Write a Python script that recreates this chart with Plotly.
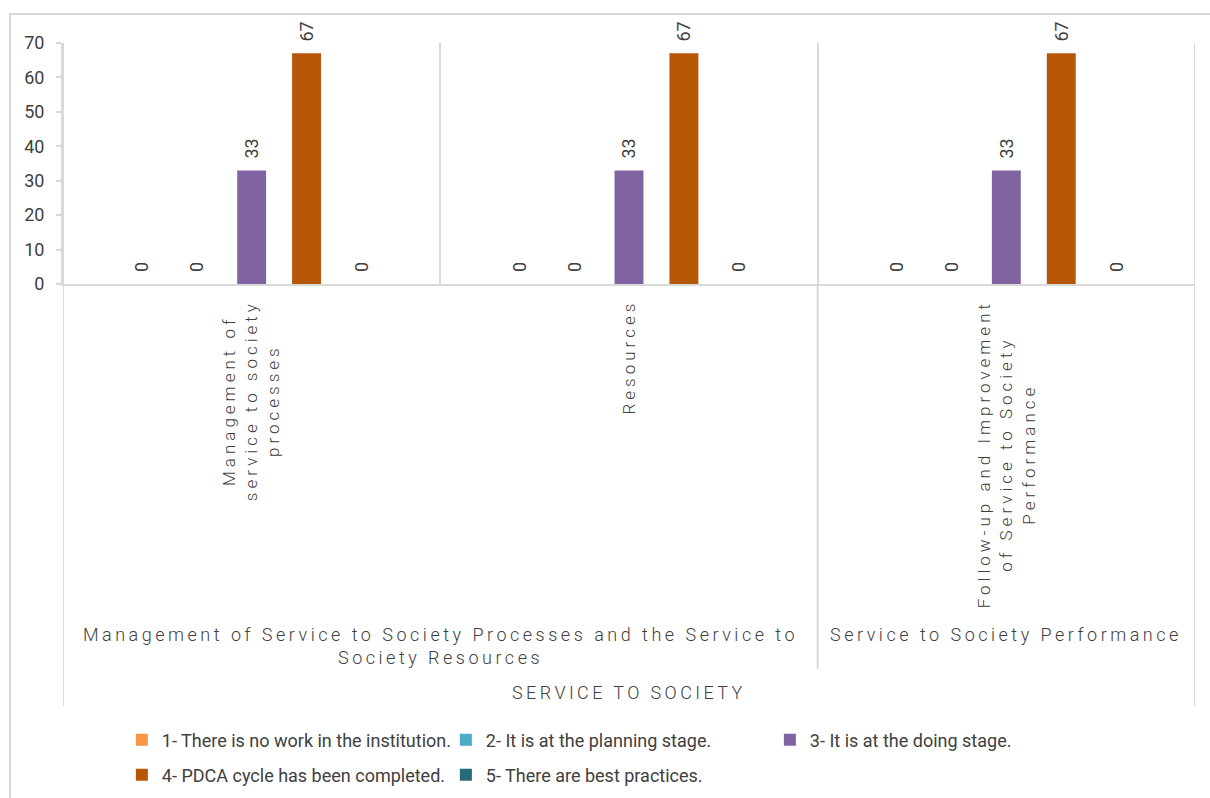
import plotly.graph_objects as go

# Sub-criteria (inner category level) and their wrapped display text
categories = [
    "Management of service to society processes",
    "Resources",
    "Follow-up and Improvement of Service to Society Performance",
]
category_lines = [
    ["Management of", "service to society", "processes"],
    ["Resources"],
    ["Follow-up and Improvement", "of Service to Society", "Performance"],
]

# Criteria groups (middle level): label lines and the category indices they span
group_lines = [
    ["Management of Service to Society Processes and the Service to", "Society Resources"],
    ["Service to Society Performance"],
]
group_spans = [(0, 1), (2, 2)]

# Top level
section_label = "SERVICE TO SOCIETY"

# Maturity levels (series)
series_names = [
    "1- There is no work in the institution.",
    "2- It is at the planning stage.",
    "3- It is at the doing stage.",
    "4- PDCA cycle has been completed.",
    "5- There are best practices.",
]
level1 = [0, 0, 0]
level2 = [0, 0, 0]
level3 = [33, 33, 33]
level4 = [67, 67, 67]
level5 = [0, 0, 0]
series_values = [level1, level2, level3, level4, level5]
series_colors = ["#F79646", "#4BACC6", "#8064A2", "#B65708", "#276A7C"]
series_legend = ["legend", "legend", "legend", "legend2", "legend2"]

y_ticks = [0, 10, 20, 30, 40, 50, 60, 70]

FONT = "Roboto, 'DejaVu Sans', sans-serif"
TEXT = "#404040"
LINE = "#D9D9D9"


def spaced(lines, px):
    return "<br>".join(
        f"<span style='letter-spacing:{px}px'>{ln}</span>" for ln in lines
    )


fig = go.Figure()
for name, vals, color, lg in zip(series_names, series_values, series_colors, series_legend):
    fig.add_trace(
        go.Bar(
            name=name,
            x=categories,
            y=vals,
            marker=dict(color=color, line=dict(width=0)),
            text=vals,
            texttemplate="\u00a0\u00a0%{y}",
            textposition="outside",
            textangle=-90,
            textfont=dict(family=FONT, size=18, color=TEXT),
            cliponaxis=False,
            legend=lg,
        )
    )

n_cat = len(categories)
annotations = []
shapes = []

# Inner category labels, rotated, hanging below the axis
for i, lines in enumerate(category_lines):
    annotations.append(
        dict(
            x=i, xref="x", y=-0.058, yref="paper",
            text=spaced(lines, 4.0),
            textangle=-90, showarrow=False,
            xanchor="center", yanchor="top", align="center",
            font=dict(family=FONT, size=17, color=TEXT, weight=300),
        )
    )

# Group labels
for lines, (a, b) in zip(group_lines, group_spans):
    annotations.append(
        dict(
            x=(a + b) / 2, xref="x", y=-1.402, yref="paper",
            text=spaced(lines, 3.5),
            showarrow=False, xanchor="center", yanchor="top", align="center",
            font=dict(family=FONT, size=18, color=TEXT, weight=300),
        )
    )

# Section label
annotations.append(
    dict(
        x=(n_cat - 1) / 2, xref="x", y=-1.693, yref="paper",
        text=spaced([section_label], 3.4),
        showarrow=False, xanchor="center", yanchor="middle",
        font=dict(family=FONT, size=18, color=TEXT, weight=300),
    )
)

# Divider lines of the multi-level category axis
for a, b in group_spans[:-1]:
    shapes.append(dict(type="line", xref="x", yref="paper",
                       x0=b + 0.5, x1=b + 0.5, y0=0, y1=-1.598,
                       line=dict(color=LINE, width=2)))
for xe in (-0.5, n_cat - 0.5):
    shapes.append(dict(type="line", xref="x", yref="paper",
                       x0=xe, x1=xe, y0=1, y1=-1.751,
                       line=dict(color=LINE, width=2)))

# Chart frame
shapes.append(dict(type="rect", xref="paper", yref="paper",
                   x0=-0.0468, x1=1.2, y0=-3.0, y1=1.1203,
                   line=dict(color=LINE, width=2), fillcolor="rgba(0,0,0,0)",
                   layer="below"))

legend_style = dict(
    orientation="h",
    xanchor="left", yanchor="middle",
    yref="container",
    font=dict(family=FONT, size=18, color=TEXT),
    bgcolor="rgba(0,0,0,0)",
    itemwidth=30,
    entrywidth=279, entrywidthmode="pixels",
    itemclick=False, itemdoubleclick=False,
    traceorder="normal",
)

fig.update_layout(
    width=1210,
    height=798,
    margin=dict(l=63, r=15, t=43, b=514, pad=0),
    paper_bgcolor="white",
    plot_bgcolor="white",
    barmode="group",
    bargap=0.2725,
    bargroupgap=0.473,
    font=dict(family=FONT, color=TEXT),
    showlegend=True,
    legend=dict(x=0.052, y=0.0727, **legend_style),
    legend2=dict(x=0.052, y=0.0288, **legend_style),
    xaxis=dict(
        type="category",
        showticklabels=False,
        tickson="boundaries",
        ticks="",
        showgrid=True,
        gridcolor=LINE,
        gridwidth=2,
        showline=True,
        linecolor=LINE,
        linewidth=2,
        zeroline=False,
        range=[-0.5, n_cat - 0.5],
    ),
    yaxis=dict(
        range=[0, 70],
        tickvals=y_ticks,
        ticks="outside",
        ticklen=5,
        tickwidth=2,
        tickcolor=LINE,
        ticklabelstandoff=8,
        tickfont=dict(family=FONT, size=18, color=TEXT),
        showgrid=False,
        showline=True,
        linecolor=LINE,
        linewidth=2,
        zeroline=False,
    ),
    annotations=annotations,
    shapes=shapes,
)

fig.write_html("out.html")
